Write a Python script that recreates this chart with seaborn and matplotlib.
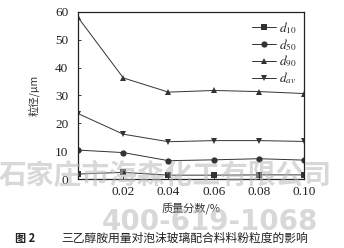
import matplotlib
matplotlib.use("Agg")
import matplotlib.pyplot as plt
import seaborn as sns
import pandas as pd

sns.set_theme(style="ticks")
plt.rcParams['font.family'] = ['Liberation Serif', 'Noto Sans CJK SC', 'DejaVu Sans']
plt.rcParams['mathtext.fontset'] = 'stix'

mass_fraction = [0.00, 0.02, 0.04, 0.06, 0.08, 0.10]
d10 = [1.8, 2.4, 1.4, 1.4, 1.5, 1.5]
d50 = [10.4, 9.5, 6.6, 6.9, 7.3, 6.8]
d90 = [58.0, 36.3, 31.2, 31.8, 31.4, 30.7]
dav = [23.5, 16.1, 13.4, 13.8, 13.8, 13.5]
series_names = [r'$d_{10}$', r'$d_{50}$', r'$d_{90}$', r'$d_{av}$']
x_ticks = [0.02, 0.04, 0.06, 0.08, 0.10]
x_ticklabels = ['0.02', '0.04', '0.06', '0.08', '0.10']
y_ticks = [0, 10, 20, 30, 40, 50, 60]

fig = plt.figure(figsize=(3.44, 2.48), dpi=100)
ax = fig.add_axes([0.227, 0.278, 0.657, 0.674])

markers = ['s', 'o', '^', 'v']
for vals, name, m in zip([d10, d50, d90, dav], series_names, markers):
    df = pd.DataFrame({'x': mass_fraction, 'y': vals})
    sns.lineplot(data=df, x='x', y='y', ax=ax, color='#333333', lw=0.7,
                 marker=m, markersize=4.5, markeredgewidth=0, label=name)

ax.set_xlim(0, 0.10)
ax.set_ylim(0, 60)
ax.set_xticks(x_ticks)
ax.set_xticklabels(x_ticklabels)
ax.set_yticks(y_ticks)
ax.tick_params(direction='in', length=2.5, width=0.6, labelsize=9.5, colors='#222222')
ax.tick_params(axis='x', pad=5)
ax.tick_params(axis='y', pad=7)
for s in ax.spines.values():
    s.set_linewidth(0.9)
    s.set_color('#222222')
ax.set_xlabel('质量分数/%', fontsize=8, family=['Noto Sans CJK SC'], labelpad=3, color='#333333')
ax.set_ylabel('粒径/μm', fontsize=7.5, family=['Noto Sans CJK SC'], labelpad=11, color='#333333')

leg = ax.legend(loc='upper right', frameon=False, fontsize=9.5, handlelength=1.8,
                handletextpad=0.2, labelspacing=0.1, borderaxespad=0.2)

# watermark
fig.text(0.48, 0.29, '石家庄市海森化工有限公司', ha='center', va='center', fontsize=20,
         family=['Noto Sans CJK SC'], weight='bold', color='#b8b8b8', alpha=0.55)
fig.text(0.61, 0.105, '400-619-1068', ha='center', va='center', fontsize=20,
         family=['DejaVu Sans'], weight='bold', color='#b8b8b8', alpha=0.55)

fig.text(0.045, 0.04, '图 2', ha='left', va='center', fontsize=8, weight='bold',
         family=['Noto Sans CJK SC'], color='#222222')
fig.text(0.538, 0.04, '三乙醇胺用量对泡沫玻璃配合料料粉粒度的影响', ha='center', va='center',
         fontsize=8.5, family=['Noto Sans CJK SC'], color='#222222')

fig.savefig('out.png', dpi=100)
